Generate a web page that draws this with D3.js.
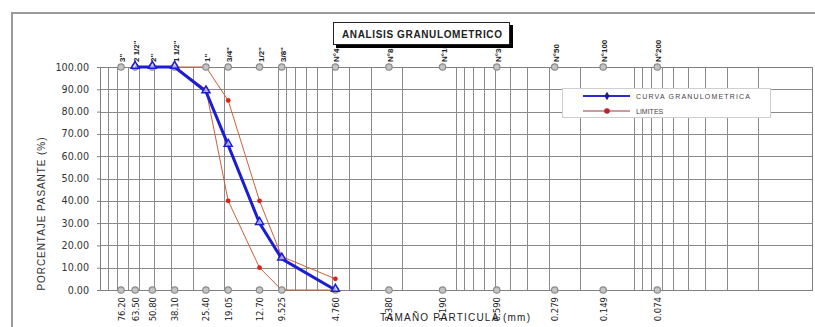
<!DOCTYPE html>
<html>
<head>
<meta charset="utf-8">
<script src="https://cdn.jsdelivr.net/npm/d3@7"></script>
<style>
  body { margin: 0; background: #fff; }
  svg { display: block; font-family: "Liberation Sans", Arial, sans-serif; }
</style>
</head>
<body>
<svg id="chart"></svg>
<script>
// sieve data
var sieveNames = ['3"', '2 1/2"', '2"', '1 1/2"', '1"', '3/4"', '1/2"', '3/8"', "N°4", "N°8", "N°16", "N°30", "N°50", "N°100", "N°200"];
var sieveMm = [76.2, 63.5, 50.8, 38.1, 25.4, 19.05, 12.7, 9.525, 4.76, 2.38, 1.19, 0.59, 0.279, 0.149, 0.074];
var sieveLabels = ["76.20", "63.50", "50.80", "38.10", "25.40", "19.05", "12.70", "9.525", "4.760", "2.380", "1.190", "0.590", "0.279", "0.149", "0.074"];

// curva granulometrica (mm, % pasante)
var curveMm = [63.5, 50.8, 38.1, 25.4, 19.05, 12.7, 9.525, 4.76];
var curvePct = [100, 100, 100, 89, 65, 30, 14, 0];

// limites
var limMm = [38.1, 25.4, 19.05, 12.7, 9.525, 4.76];
var limUpper = [100, 100, 85, 40, 15, 5];
var limLower = [100, 90, 40, 10, 0, 0];

var yTicks = [0, 10, 20, 30, 40, 50, 60, 70, 80, 90, 100];

var width = 815, height = 327;
var plotL = 100, plotR = 812, plotT = 67, plotB = 290;

var svg = d3.select("#chart").attr("width", width).attr("height", height);

// outer chart border
svg.append("rect")
	.attr("x", 12).attr("y", 13)
	.attr("width", 830).attr("height", 340)
	.attr("fill", "#fff").attr("stroke", "#9a9a9a").attr("stroke-width", 2);

var x = d3.scaleLog().domain([100, 0.01]).range([plotL, plotR]);
var y = d3.scaleLinear().domain([0, 100]).range([plotB, plotT]);

// log grid lines
var gridVals = [];
[0.01, 0.1, 1, 10].forEach(function (e) {
	for (var k = 1; k <= 9; k++) gridVals.push(+(k * e).toPrecision(3));
});
gridVals.push(100);

var grid = svg.append("g").attr("class", "grid");
grid.selectAll("line.v").data(gridVals).enter().append("line")
	.attr("class", "v")
	.attr("x1", function (d) { return Math.round(x(d)) + 0.5; })
	.attr("x2", function (d) { return Math.round(x(d)) + 0.5; })
	.attr("y1", plotT).attr("y2", plotB)
	.attr("stroke", "#8a8a8a").attr("stroke-width", 1);

grid.selectAll("line.h").data(yTicks).enter().append("line")
	.attr("class", "h")
	.attr("x1", plotL).attr("x2", plotR)
	.attr("y1", function (d) { return Math.round(y(d)) + 0.5; })
	.attr("y2", function (d) { return Math.round(y(d)) + 0.5; })
	.attr("stroke", "#8a8a8a").attr("stroke-width", 1);

grid.append("rect")
	.attr("x", plotL + 0.5).attr("y", plotT + 0.5)
	.attr("width", plotR - plotL).attr("height", plotB - plotT)
	.attr("fill", "none").attr("stroke", "#808080");

// y axis
var yAxis = d3.axisLeft(y).tickValues(yTicks).tickFormat(d3.format(".2f")).tickSize(3).tickPadding(8);
var gY = svg.append("g")
	.attr("transform", "translate(" + plotL + ",0)")
	.call(yAxis);
gY.select(".domain").attr("stroke", "#808080");
gY.selectAll(".tick line").attr("stroke", "#808080");
gY.selectAll(".tick text")
	.attr("fill", "#333")
	.style("font-family", "'DejaVu Sans', sans-serif")
	.style("font-size", "9.6px");

svg.append("text")
	.attr("transform", "translate(45," + 214 + ") rotate(-90)")
	.attr("text-anchor", "middle")
	.attr("fill", "#333")
	.style("font-size", "10px")
	.attr("textLength", 153)
	.text("PORCENTAJE PASANTE (%)");

var sieves = sieveMm.map(function (d, i) {
	return { mm: d, name: sieveNames[i], label: sieveLabels[i] };
});

// top sieve names
svg.append("g").selectAll("text").data(sieves).enter().append("text")
	.attr("transform", function (d) {
		return "translate(" + (x(d.mm) + 4) + ",62) rotate(-90)";
	})
	.attr("text-anchor", "start")
	.attr("fill", "#222")
	.style("font-size", "8px")
	.style("font-weight", "bold")
	.text(function (d) { return d.name; });

// bottom mm labels
svg.append("g").selectAll("text").data(sieves).enter().append("text")
	.attr("transform", function (d) {
		return "translate(" + (x(d.mm) + 3.5) + ",297) rotate(-90)";
	})
	.attr("text-anchor", "end")
	.attr("fill", "#222")
	.style("font-family", "'DejaVu Sans', sans-serif")
	.style("font-size", "8.5px")
	.text(function (d) { return d.label; });

svg.append("text")
	.attr("x", 455).attr("y", 321)
	.attr("text-anchor", "middle")
	.attr("fill", "#222")
	.style("font-size", "10px")
	.attr("textLength", 150)
	.text("TAMAÑO PARTICULA (mm)");

// limites
var line = d3.line()
	.x(function (d) { return x(d[0]); })
	.y(function (d) { return y(d[1]); });

var limColor = "#c8603a";
[limUpper, limLower].forEach(function (lim) {
	var pts = limMm.map(function (d, i) { return [d, lim[i]]; });
	svg.append("path")
		.datum(pts)
		.attr("d", line)
		.attr("fill", "none")
		.attr("stroke", limColor)
		.attr("stroke-width", 1);
	svg.append("g").selectAll("circle").data(pts).enter().append("circle")
		.attr("cx", function (d) { return x(d[0]); })
		.attr("cy", function (d) { return y(d[1]); })
		.attr("r", 2.4)
		.attr("fill", "#e0201e");
});

// sieve marker series at 100 and 0
[100, 0].forEach(function (v) {
	svg.append("g").selectAll("circle").data(sieves).enter().append("circle")
		.attr("cx", function (d) { return x(d.mm); })
		.attr("cy", y(v))
		.attr("r", 3.2)
		.attr("fill", "#c4c4c4")
		.attr("stroke", "#8c8c8c")
		.attr("stroke-width", 1.2);
});

// curva granulometrica
var curvePts = curveMm.map(function (d, i) { return [d, curvePct[i]]; });
svg.append("path")
	.datum(curvePts)
	.attr("d", line)
	.attr("fill", "none")
	.attr("stroke", "#1c1cd6")
	.attr("stroke-width", 3);

var tri = d3.symbol().type(d3.symbolTriangle).size(28);
svg.append("g").selectAll("path").data(curvePts).enter().append("path")
	.attr("d", tri)
	.attr("transform", function (d) {
		return "translate(" + x(d[0]) + "," + (y(d[1]) - 1) + ")";
	})
	.attr("fill", "#fff")
	.attr("fill-opacity", 0.6)
	.attr("stroke", "#1c1cd6")
	.attr("stroke-width", 1.5);

// legend
var legend = svg.append("g");
legend.append("rect")
	.attr("x", 562.5).attr("y", 88.5)
	.attr("width", 208).attr("height", 29)
	.attr("fill", "#fff").attr("stroke", "#cfcfcf");

legend.append("line")
	.attr("x1", 583).attr("x2", 630).attr("y1", 96).attr("y2", 96)
	.attr("stroke", "#2a2ad0").attr("stroke-width", 2);
legend.append("path")
	.attr("d", d3.symbol().type(d3.symbolDiamond).size(22))
	.attr("transform", "translate(607,96)")
	.attr("fill", "#1a1a8a");
legend.append("text")
	.attr("x", 636).attr("y", 99)
	.attr("fill", "#444")
	.style("font-size", "7px")
	.attr("textLength", 114)
	.text("CURVA GRANULOMETRICA");

legend.append("line")
	.attr("x1", 583).attr("x2", 630).attr("y1", 111).attr("y2", 111)
	.attr("stroke", "#9a3a3a").attr("stroke-width", 1.2);
legend.append("circle")
	.attr("cx", 607).attr("cy", 111).attr("r", 2.8)
	.attr("fill", "#c0202a");
legend.append("text")
	.attr("x", 636).attr("y", 114)
	.attr("fill", "#444")
	.style("font-size", "7px")
	.text("LIMITES");

// title box
var title = svg.append("g");
title.append("rect")
	.attr("x", 336).attr("y", 25)
	.attr("width", 177).attr("height", 23)
	.attr("fill", "#000");
title.append("rect")
	.attr("x", 333.5).attr("y", 22.5)
	.attr("width", 176).attr("height", 22)
	.attr("fill", "#fff").attr("stroke", "#222");
title.append("text")
	.attr("x", 422).attr("y", 37.5)
	.attr("text-anchor", "middle")
	.attr("fill", "#222")
	.style("font-size", "10px")
	.style("font-weight", "bold")
	.attr("textLength", 160)
	.text("ANALISIS GRANULOMETRICO");
</script>
</body>
</html>
